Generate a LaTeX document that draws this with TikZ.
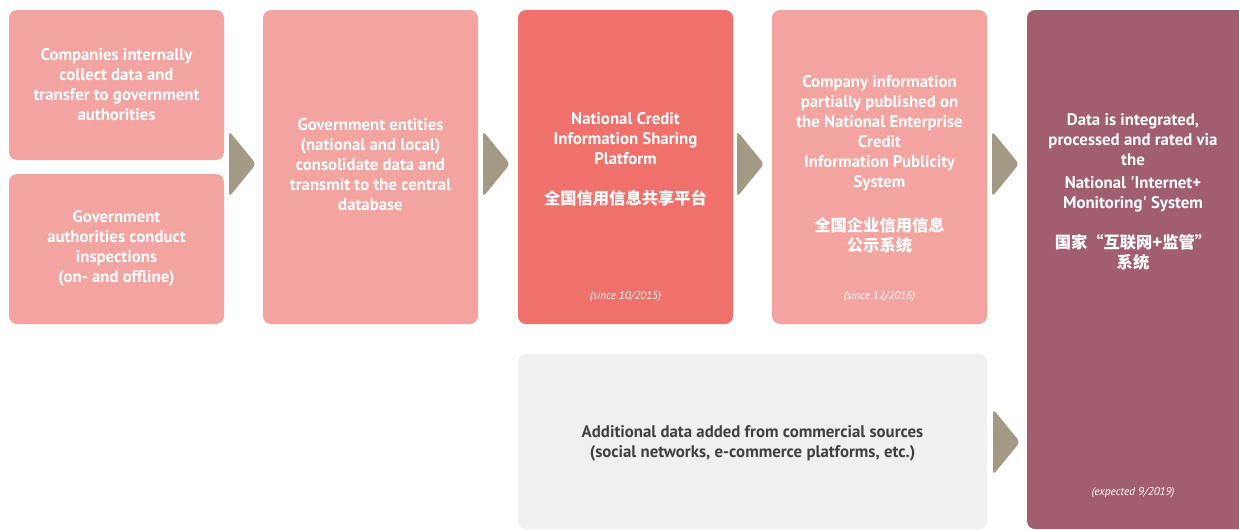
\documentclass[tikz,border=0pt]{standalone}
\usepackage{fontspec}
\setmainfont{PT Sans}
\newfontfamily\cjk{Noto Sans CJK SC}
\usetikzlibrary{calc}
\definecolor{pinkbox}{HTML}{F4A4A0}
\definecolor{redbox}{HTML}{F0716B}
\definecolor{plumbox}{HTML}{A05E6E}
\definecolor{greybox}{HTML}{F0F0F0}
\definecolor{chev}{HTML}{A39A86}
\definecolor{darktext}{HTML}{404040}
\newcommand{\chevronat}[1]{\fill[chev, rounded corners=3pt] ($#1+(-13.5,-33)$) -- ($#1+(13.5,0)$) -- ($#1+(-13.5,33)$) -- cycle;}
\begin{document}
\begin{tikzpicture}[x=0.75pt,y=-0.75pt,
  box/.style={rounded corners=6pt, inner sep=0pt, outer sep=0pt},
  lbl/.style={text=white, font=\bfseries\fontsize{12.6}{15}\selectfont, align=center, inner sep=0pt},
  cjklbl/.style={text=white, font=\cjk\bfseries\fontsize{12.2}{15}\selectfont, align=center, inner sep=0pt},
  note/.style={text=white, font=\itshape\fontsize{8.5}{10}\selectfont, inner sep=0pt}]
\useasboundingbox (0,0) rectangle (1239,529);
\clip (0,0) rectangle (1239,529);
% boxes
\node[box, fill=pinkbox, minimum width=161.25pt, minimum height=112.5pt] (a) at (116.5,85) {};
\node[box, fill=pinkbox, minimum width=161.25pt, minimum height=112.5pt] (b) at (116.5,249) {};
\node[box, fill=pinkbox, minimum width=161.25pt, minimum height=235.5pt] (c) at (370.5,167) {};
\node[box, fill=redbox, minimum width=161.25pt, minimum height=235.5pt] (d) at (625.5,167) {};
\node[box, fill=pinkbox, minimum width=161.25pt, minimum height=235.5pt] (e) at (879.5,167) {};
\node[box, fill=plumbox, minimum width=182.25pt, minimum height=389.25pt] (f) at (1148.5,269.5) {};
\node[box, fill=greybox, minimum width=351.75pt, minimum height=131.25pt] (g) at (752.5,441.5) {};
% chevrons
\chevronat{(242.5,164)}
\chevronat{(496.5,164)}
\chevronat{(750.5,164)}
\chevronat{(1005.5,164)}
\chevronat{(1006.5,442)}
% texts
\node[lbl] (ta) at (116.5,85) {Companies internally\\collect data and\\transfer to government\\authorities};
\node[lbl] (tb) at (116.5,248) {Government\\authorities conduct\\inspections\\(on- and offline)};
\node[lbl] (tc) at (370.5,165) {Government entities\\(national and local)\\consolidate data and\\transmit to the central\\database};
\node[lbl] (td) at (625.5,139) {National Credit\\Information Sharing\\Platform};
\node[cjklbl] (tdc) at (625.5,198) {全国信用信息共享平台};
\node[note] (nd) at (625.5,297) {(since 10/2015)};
\node[lbl] (te) at (879.5,133) {Company information\\partially published on\\the National Enterprise\\Credit\\Information Publicity\\System};
\node[cjklbl] (tec) at (879.5,235) {全国企业信用信息\\公示系统};
\node[note] (ne) at (879.5,297) {(since 12/2016)};
\node[lbl] (tf) at (1133,140) {Data is integrated,\\processed and rated via\\the};
\node[lbl] (tf2) at (1133,194) {National \textquotesingle Internet+\\Monitoring\textquotesingle{} System};
\node[cjklbl] (tfc) at (1133,252) {国家“互联网+监管”\\系统};
\node[note] (nf) at (1133,493) {(expected 9/2019)};
\node[lbl, text=darktext] (tg) at (752.5,443) {Additional data added from commercial sources\\(social networks, e-commerce platforms, etc.)};
\end{tikzpicture}
\end{document}
